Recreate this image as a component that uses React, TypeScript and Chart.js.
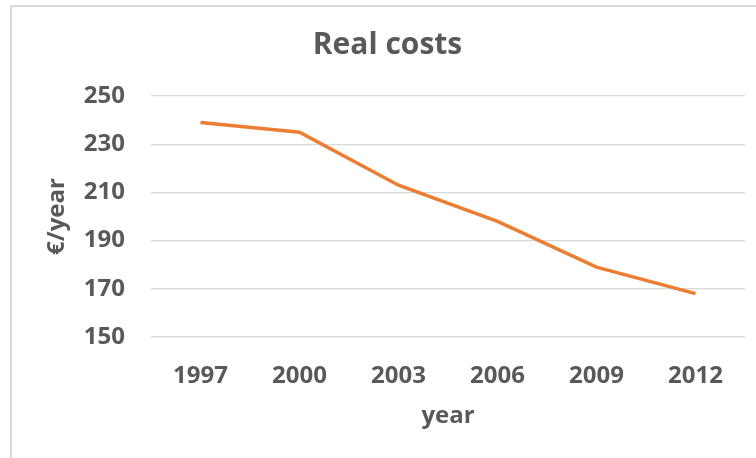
import React, { useEffect, useRef } from "react";
import { Chart, registerables } from "chart.js";

Chart.register(...registerables);

const years = ["1997", "2000", "2003", "2006", "2009", "2012"];
const realCosts = [239, 235, 213, 198, 179, 168];

const TEXT = "#595959";
const FONT = "'Open Sans', 'Noto Sans', sans-serif";

export default function App(): React.ReactElement {
  const canvasRef = useRef<HTMLCanvasElement | null>(null);

  useEffect(() => {
    if (!canvasRef.current) return;
    const chart = new Chart(canvasRef.current, {
      type: "line",
      data: {
        labels: years,
        datasets: [
          {
            label: "Real costs",
            data: realCosts,
            borderColor: "#ED7D31",
            backgroundColor: "#ED7D31",
            borderWidth: 3.5,
            pointRadius: 0,
            tension: 0,
            fill: false,
          },
        ],
      },
      options: {
        responsive: true,
        maintainAspectRatio: false,
        animation: false,
        layout: { padding: { left: 30, right: 11, top: 0, bottom: 0 } },
        plugins: {
          legend: { display: false },
          tooltip: { enabled: false },
          title: {
            display: true,
            text: "Real costs",
            color: TEXT,
            font: { family: FONT, size: 30, weight: "bold", lineHeight: 1.2 },
            padding: { top: 27, bottom: 33 },
          },
        },
        scales: {
          x: {
            type: "category",
            offset: true,
            grid: { display: false, drawTicks: false },
            border: { display: false },
            ticks: {
              color: TEXT,
              padding: 25,
              font: { family: FONT, size: 24, weight: "bold", lineHeight: 1.2 },
            },
            title: {
              display: true,
              text: "year",
              color: TEXT,
              font: { family: FONT, size: 24, weight: "bold", lineHeight: 1.2 },
              padding: { top: 0, bottom: 27 },
            },
            afterFit: (scale) => {
              scale.height = 121;
            },
          },
          y: {
            min: 150,
            max: 250,
            grid: { color: "#d9d9d9", lineWidth: 1.3, drawTicks: false },
            border: { display: false },
            ticks: {
              stepSize: 20,
              color: TEXT,
              padding: 26,
              font: { family: FONT, size: 24, weight: "bold", lineHeight: 1.2 },
            },
            title: {
              display: true,
              text: "€/year",
              color: TEXT,
              font: { family: FONT, size: 24, weight: "bold", lineHeight: 1.2 },
              padding: { top: 13, bottom: 0 },
            },
            afterFit: (scale) => {
              scale.width = 121;
            },
          },
        },
      },
    });
    return () => {
      chart.destroy();
    };
  }, []);

  return (
    <div style={{ position: "fixed", left: 0, top: 0, width: 756, height: 458, background: "#fff", overflow: "hidden" }}>
      <div
        style={{
          position: "absolute",
          left: 10,
          top: 5,
          width: 800,
          height: 500,
          borderLeft: "2px solid #d9d9d9",
          borderTop: "2px solid #d9d9d9",
        }}
      />
      <div style={{ position: "absolute", left: 0, top: 0, width: 756, height: 458 }}>
        <canvas ref={canvasRef} />
      </div>
    </div>
  );
}
